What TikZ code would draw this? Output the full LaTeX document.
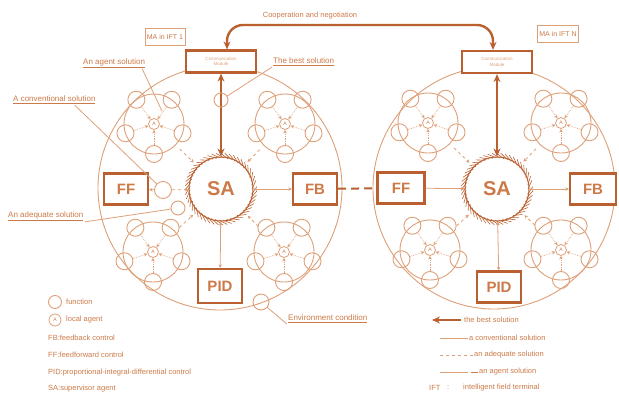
\documentclass[tikz,border=0pt]{standalone}
\usepackage{fontspec}
\setmainfont{Liberation Sans}
\usetikzlibrary{arrows.meta,calc}
\definecolor{dk}{RGB}{186,96,48}
\definecolor{md}{RGB}{204,122,72}
\definecolor{lt}{RGB}{222,160,120}
\begin{document}
\begin{tikzpicture}[x=1pt,y=-1pt,
  ctrlbox/.style={draw=dk,line width=2.2pt,fill=white,text=md,font=\bfseries\fontsize{15}{15}\selectfont,minimum width=44pt,minimum height=31pt,inner sep=0pt},
  commbox/.style={draw=dk,line width=2.2pt,fill=white,text=lt,font=\fontsize{4.5}{5.5}\selectfont,align=center,minimum width=70pt,minimum height=22pt,inner sep=0pt},
  mabox/.style={draw=lt,line width=0.6pt,text=md,font=\fontsize{7}{8}\selectfont,inner sep=2pt,minimum height=17pt},
  bigc/.style={circle,draw=lt,line width=0.9pt,inner sep=0pt},
  ring/.style={draw=lt,line width=0.9pt},
  fcirc/.style={circle,draw=lt,line width=0.9pt,minimum size=17pt,inner sep=0pt},
  acirc/.style={circle,draw=lt,line width=0.8pt,minimum size=11pt,inner sep=0pt,font=\fontsize{5}{5}\selectfont,text=md},
  spoke/.style={draw=lt,line width=0.7pt,densely dotted},
  conv/.style={draw=lt,line width=0.8pt},
  adeq/.style={draw=lt,line width=0.8pt,dashed},
  bigarrow/.style={draw=dk,line width=2.4pt},
  bigtips/.style={{Stealth[length=8pt,width=7pt]}-{Stealth[length=8pt,width=7pt]}},
  onetip/.style={-{Stealth[length=3.5pt,width=3.5pt]}},
  twotips/.style={{Stealth[length=3.5pt,width=3.5pt]}-{Stealth[length=3.5pt,width=3.5pt]}},
  sacirc/.style={circle,draw=dk,line width=1pt,minimum size=64pt,inner sep=0pt,text=md,font=\bfseries\fontsize{20}{20}\selectfont},
  lbl/.style={text=md,font=\fontsize{8}{9}\selectfont,inner sep=1pt,anchor=west},
  leg/.style={text=md,font=\fontsize{7.5}{8}\selectfont,inner sep=1pt,anchor=west},
  cluster/.pic={
    \draw[ring] (0,0) circle (30pt);
    \node[acirc] (-a) at (0,0) {A};
    \foreach \ang [count=\i] in {90,162,234,306,18} {
      \node[fcirc] (-f\i) at (\ang:30) {};
      \draw[spoke,onetip] (-f\i) -- (-a);
    }
  }
]
\useasboundingbox (0,0) rectangle (619,399);

% big circles
\node[bigc,minimum size=244pt] (ift1) at (220,188) {};
\node[bigc,minimum size=242pt] (ift2) at (494,188) {};

% clusters
\pic (L1) at (154,124) {cluster};
\pic (L2) at (285,124) {cluster};
\pic (L3) at (153,252) {cluster};
\pic (L4) at (284,252) {cluster};
\pic (R1) at (428,123) {cluster};
\pic (R2) at (561,123) {cluster};
\pic (R3) at (430,250) {cluster};
\pic (R4) at (561,250) {cluster};

% supervisor agents
\node[sacirc] (sa1) at (221,189) {SA};
\node[sacirc] (sa2) at (497,189) {SA};
\foreach \s in {sa1,sa2} {
  \begin{scope}[shift={(\s.center)}]
    \foreach \t in {0,7,...,353}
      \draw[dk,line width=0.6pt] (\t:31pt) -- (\t+14:36pt);
  \end{scope}
}

% adequate solution lines from clusters
\foreach \c/\s in {L1/sa1,L2/sa1,L3/sa1,L4/sa1,R1/sa2,R2/sa2,R3/sa2,R4/sa2}
  \draw[adeq,onetip] ($(\c-a)!36pt!(\s)$) -- ($(\s)!38pt!(\c-a)$);

% control boxes
\node[ctrlbox] (ff1) at (126,189) {FF};
\node[ctrlbox] (fb1) at (315,189) {FB};
\node[ctrlbox,minimum height=34pt] (pid1) at (220,286) {PID};
\node[ctrlbox,minimum width=47pt] (ff2) at (401,188) {FF};
\node[ctrlbox,minimum width=46pt] (fb2) at (593,189) {FB};
\node[ctrlbox] (pid2) at (499,287) {PID};

% communication modules
\node[commbox] (cm1) at (221,61.5) {Communication\\Module};
\node[commbox] (cm2) at (497,62) {Communication\\Module};
\node[mabox] (ma1) at (165,36.5) {MA in IFT 1};
\node[mabox] (ma2) at (558,33.5) {MA in IFT N};

% thick arrows
\draw[bigarrow,bigtips] (cm1) -- (sa1);
\draw[bigarrow,bigtips] (cm2) -- (sa2);
\coordinate (coopL) at (227,25);
\coordinate (coopR) at (493,25);
\draw[bigarrow,bigtips,rounded corners=16pt] ([xshift=6pt]cm1.north) -- (coopL) -- (coopR) -- ([xshift=-4pt]cm2.north);
\node[text=md,font=\fontsize{7.5}{8}\selectfont] (coop) at (310,16) {Cooperation and negotiation};

% FF / FB / PID connections
\node[fcirc,minimum size=17pt] (fcs) at (163,190) {};
\draw[adeq,onetip] (fcs) -- (ff1);
\draw[adeq,onetip] (fcs) -- (sa1);
\draw[conv,twotips] (sa1) -- (fb1);
\draw[conv,twotips] (sa1) -- (pid1);
\draw[conv,onetip] (ff2) -- (sa2);
\draw[conv,twotips] (sa2) -- (fb2);
\draw[conv,twotips] (sa2) -- (pid2);
\draw[dk,line width=2pt,dash pattern=on 8pt off 5pt] (fb1) -- (ff2);

% annotated small circles
\node[fcirc,minimum size=14pt] (bs) at (221,100) {};
\node[fcirc,minimum size=14pt] (adq) at (178,208) {};
\node[fcirc,minimum size=16pt] (env) at (261,302) {};

% labels
\node[lbl] (lbagent) at (82,63) {\underline{An agent solution}};
\node[lbl] (lbbest) at (272,62) {\underline{The best solution}};
\node[lbl] (lbconv) at (12,100) {\underline{A conventional solution}};
\node[lbl] (lbadeq) at (7,216) {\underline{An adequate solution}};
\node[lbl] (lbenv) at (287,319) {\underline{Environment condition}};
\coordinate (agentpt) at (162,111);
\draw[conv] ([xshift=-4pt]lbagent.south east) -- (agentpt);
\draw[conv] (lbbest.south west) -- (bs);
\draw[conv] ([xshift=-22pt]lbconv.south east) -- (fcs);
\draw[conv] (lbadeq.south east) -- (adq);
\draw[conv] (env) -- (lbenv.south west);

% legend left
\node[fcirc,minimum size=13pt] (lgf) at (55,302) {};
\node[leg] (lgft) at (65,302) {function};
\node[acirc,minimum size=12pt,font=\fontsize{5}{5}\selectfont] (lga) at (55,320) {A};
\node[leg] (lgat) at (65,320) {local agent};
\node[leg] (lgfb) at (47,338) {FB:feedback control};
\node[leg] (lgff) at (47,355) {FF:feedforward control};
\node[leg] (lgpid) at (47,373) {PID:proportional-integral-differential control};
\node[leg] (lgsa) at (47,389) {SA:supervisor agent};

% legend right
\node[leg] (lgbest) at (463,320) {the best solution};
\coordinate (lgbs) at (461,320);
\coordinate (lgbe) at (432,320);
\draw[bigarrow,-{Stealth[length=8pt,width=7pt]}] (lgbs) -- (lgbe);
\node[leg] (lgconv) at (468,338) {a conventional solution};
\coordinate (lgcs) at (440,338);
\draw[conv] (lgcs) -- (lgconv.west);
\node[leg] (lgadeq) at (473,355) {an adequate solution};
\coordinate (lgds) at (440,355);
\draw[adeq] (lgds) -- (lgadeq.west);
\node[leg] (lgagent) at (478,372) {an agent solution};
\coordinate (lgas) at (440,372);
\coordinate (lgam) at (468,372);
\coordinate (lgan) at (471,372);
\draw[lt,line width=0.5pt] (lgas) -- (lgam);
\draw[md,line width=0.6pt] (lgan) -- (lgagent.west);
\node[leg] (lgift) at (428,388) {IFT};
\node[leg] (lgcolon) at (446,388) {:};
\node[leg] (lgiftt) at (462,388) {intelligent field terminal};
\end{tikzpicture}
\end{document}
